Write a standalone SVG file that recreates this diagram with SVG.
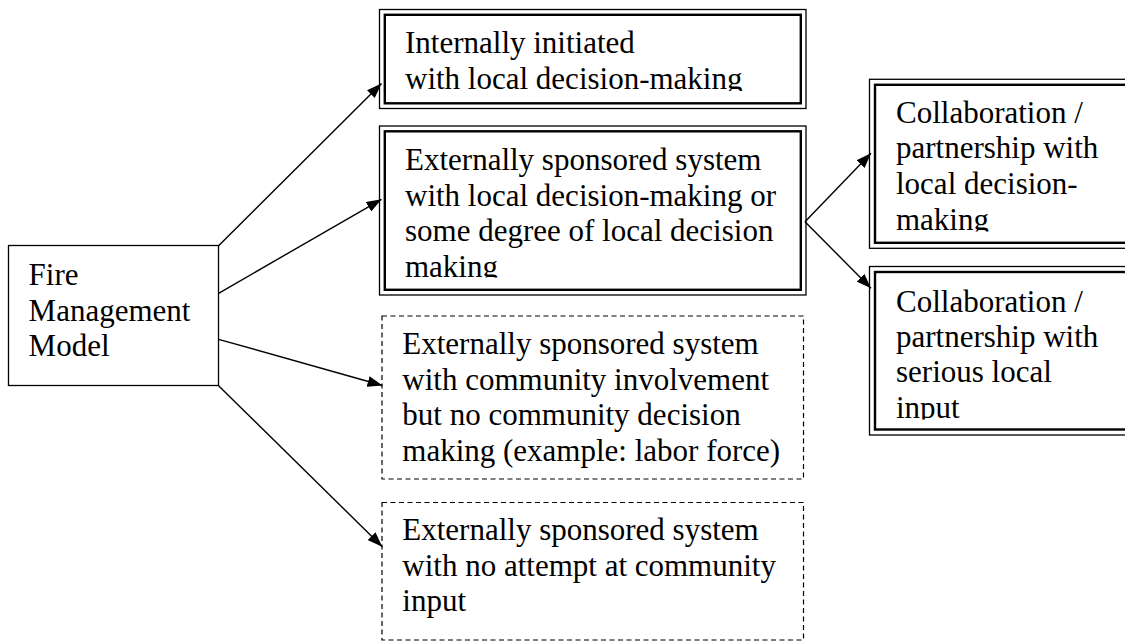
<svg xmlns="http://www.w3.org/2000/svg" width="1125" height="642" viewBox="0 0 1125 642">
<style>
text{font-family:"Liberation Serif","Times New Roman",serif;font-size:31px;fill:#000}
.box{fill:#fff;stroke:#000;stroke-width:1.3}
.outer{fill:#fff;stroke:#000;stroke-width:1.3}
.inner{fill:none;stroke:#000;stroke-width:2.4}
.dash{fill:#fff;stroke:#000;stroke-width:1.2;stroke-dasharray:5 3.5}
.conn{stroke:#000;stroke-width:1.4;fill:none;marker-end:url(#ah)}
</style>
<defs>
<marker id="ah" markerUnits="userSpaceOnUse" markerWidth="16" markerHeight="11" refX="15" refY="5.5" orient="auto" viewBox="0 0 16 11">
<path d="M0,0 L15,5.5 L0,11 z" fill="#000"/>
</marker>
<clipPath id="c1" clipPathUnits="userSpaceOnUse"><rect x="380" y="10" width="420" height="81"/></clipPath>
<clipPath id="c2" clipPathUnits="userSpaceOnUse"><rect x="380" y="127" width="420" height="150.5"/></clipPath>
<clipPath id="c3" clipPathUnits="userSpaceOnUse"><rect x="870" y="80" width="260" height="151.5"/></clipPath>
<clipPath id="c4" clipPathUnits="userSpaceOnUse"><rect x="870" y="267" width="260" height="152.5"/></clipPath>
</defs>
<rect width="1125" height="642" fill="#fff"/>

<g id="fire">
<rect class="box" x="8.5" y="245.5" width="210" height="140"/>
<text x="28.6" y="285">Fire</text>
<text x="28.6" y="320.5">Management</text>
<text x="28.6" y="356">Model</text>
</g>

<g id="internal">
<rect class="outer" x="379.5" y="9.5" width="426.5" height="99"/>
<rect class="inner" x="384.8" y="14.8" width="416" height="88.5"/>
<g clip-path="url(#c1)">
<text x="405" y="53.3">Internally initiated</text>
<text x="405" y="88.8">with local decision-making</text>
</g>
</g>

<g id="external-local">
<rect class="outer" x="379.5" y="126" width="426.5" height="169"/>
<rect class="inner" x="384.8" y="131.3" width="416" height="158.5"/>
<g clip-path="url(#c2)">
<text x="405" y="170">Externally sponsored system</text>
<text x="405" y="205.5">with local decision-making or</text>
<text x="405" y="241">some degree of local decision</text>
<text x="405" y="276.5">making</text>
</g>
</g>

<g id="collab-local">
<rect class="outer" x="869.5" y="79.3" width="270" height="169"/>
<rect class="inner" x="875" y="84.8" width="270" height="158"/>
<g clip-path="url(#c3)">
<text x="896" y="122.7">Collaboration /</text>
<text x="896" y="158.4">partnership with</text>
<text x="896" y="194.1">local decision-</text>
<text x="896" y="229.8">making</text>
</g>
</g>

<g id="collab-serious">
<rect class="outer" x="869.5" y="266.5" width="270" height="168.5"/>
<rect class="inner" x="875" y="272" width="270" height="157.5"/>
<g clip-path="url(#c4)">
<text x="896" y="311.6">Collaboration /</text>
<text x="896" y="347">partnership with</text>
<text x="896" y="382.4">serious local</text>
<text x="896" y="417.8">input</text>
</g>
</g>

<g id="external-involvement">
<rect class="dash" x="382" y="316" width="421.5" height="163"/>
<text x="402.3" y="354">Externally sponsored system</text>
<text x="402.3" y="389.5">with community involvement</text>
<text x="402.3" y="425">but no community decision</text>
<text x="402.3" y="460.5">making (example: labor force)</text>
</g>

<g id="external-none">
<rect class="dash" x="382" y="502.5" width="421.5" height="137.5"/>
<text x="402.3" y="540">Externally sponsored system</text>
<text x="402.3" y="575.5">with no attempt at community</text>
<text x="402.3" y="611">input</text>
</g>

<g id="connectors">
<line class="conn" x1="218.6" y1="245.7" x2="381.5" y2="83.5"/>
<line class="conn" x1="218.6" y1="293.3" x2="381.5" y2="199.3"/>
<line class="conn" x1="218.6" y1="339.3" x2="382.5" y2="385.5"/>
<line class="conn" x1="218.6" y1="385.7" x2="382.3" y2="546.7"/>
<line class="conn" x1="805" y1="221.7" x2="871" y2="153.3"/>
<line class="conn" x1="805" y1="221.7" x2="871" y2="288.3"/>
</g>
</svg>
